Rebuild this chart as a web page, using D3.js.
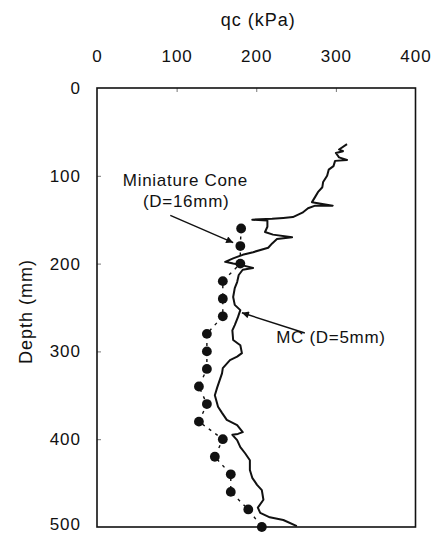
<!DOCTYPE html>
<html>
<head>
<meta charset="utf-8">
<script src="https://cdn.jsdelivr.net/npm/d3@7"></script>
<style>
  body { margin: 0; background: #fff; }
  text { font-family: Arial, "Liberation Sans", sans-serif; fill: #111; }
</style>
</head>
<body>
<svg id="chart" width="440" height="535"></svg>
<script>
// ---- data ----
const xTicks = [0, 100, 200, 300, 400];
const yTicks = [0, 100, 200, 300, 400, 500];

// Miniature cone (D=16mm), dots every 20 mm
const coneDepth = [160, 180, 200, 220, 240, 260, 280, 300, 320, 340, 360, 380, 400, 420, 440, 460, 480, 500];
const coneQc    = [181, 180, 180, 158, 158, 158, 138, 138, 138, 128, 138, 128, 158, 148, 168, 168, 190, 207];

// MC (D=5mm) continuous trace
const mcQc    = [314, 304, 309, 300, 304, 314, 299, 297, 291, 289, 284, 283, 278, 274, 270, 296, 274, 265, 258, 246,
                 234, 220, 195, 214, 214, 211, 221, 245, 226, 220, 215, 196, 183, 171, 161, 171, 183, 196, 183, 178,
                 176, 173, 171, 173, 180, 177, 173, 170, 171, 180, 182, 176, 167, 158, 157, 151, 148, 152, 157, 163,
                 176, 183, 177, 170, 176, 180, 186, 192, 192, 195, 201, 207, 209, 202, 205, 217, 234, 251];
const mcDepth = [ 64,  70,  72,  74,  79,  82,  83,  89,  93, 100, 107, 113, 118, 124, 130, 134, 134, 137, 142, 147,
                 148, 149, 150, 151, 158, 164, 167, 170, 172, 177, 182, 187, 190, 194, 198, 200, 202, 205, 207, 213,
                 221, 228, 238, 247, 253, 261, 270, 276, 287, 293, 302, 306, 310, 319, 325, 341, 350, 363, 370, 378,
                 384, 392, 394, 395, 401, 409, 416, 424, 435, 444, 452, 458, 469, 478, 484, 489, 492, 499];

// ---- layout ----
const plotL = 97, plotR = 415.5, plotT = 88, plotB = 527;

const svg = d3.select("#chart");

const x = d3.scaleLinear().domain([0, 400]).range([plotL, plotR]);
const y = d3.scaleLinear().domain([0, 500]).range([plotT, plotB]);

// arrow marker
svg.append("defs").append("marker")
  .attr("id", "arrow")
  .attr("viewBox", "0 0 10 10")
  .attr("refX", 10).attr("refY", 5)
  .attr("markerWidth", 12).attr("markerHeight", 7)
  .attr("markerUnits", "userSpaceOnUse")
  .attr("orient", "auto")
  .append("path")
  .attr("d", "M0,0 L10,5 L0,10 Z")
  .attr("fill", "#111");

// ---- axes ----
const topAxis = svg.append("g")
  .attr("transform", `translate(0,${plotT})`)
  .call(d3.axisTop(x).tickValues(xTicks).tickSize(0).tickPadding(26));
topAxis.select(".domain").remove();
topAxis.selectAll("text")
  .attr("font-size", 17).attr("letter-spacing", 1).attr("fill", "#111");

// small inner ticks on the top
svg.append("g")
  .attr("transform", `translate(0,${plotT})`)
  .call(d3.axisTop(x).tickValues([100, 200, 300]).tickSize(-4).tickFormat(""))
  .call(g => g.select(".domain").remove())
  .selectAll("line").attr("stroke", "#777");

const leftAxis = svg.append("g")
  .attr("transform", `translate(${plotL},0)`)
  .call(d3.axisLeft(y).tickValues(yTicks).tickSize(0).tickPadding(16));
leftAxis.select(".domain").remove();
leftAxis.selectAll("text")
  .attr("font-size", 17).attr("letter-spacing", 1).attr("fill", "#111")
  .attr("dy", d => d === 500 ? "0.12em" : "0.32em"); // last one sits on the page edge

svg.append("g")
  .attr("transform", `translate(${plotL},0)`)
  .call(d3.axisLeft(y).tickValues([100, 200, 300, 400]).tickSize(-4).tickFormat(""))
  .call(g => g.select(".domain").remove())
  .selectAll("line").attr("stroke", "#777");

// frame
svg.append("rect")
  .attr("x", plotL).attr("y", plotT)
  .attr("width", plotR - plotL).attr("height", plotB - plotT)
  .attr("fill", "none")
  .attr("stroke", "#111")
  .attr("stroke-width", 1.6);

// axis titles
svg.append("text")
  .attr("x", (plotL + plotR) / 2 + 2).attr("y", 26)
  .attr("text-anchor", "middle")
  .attr("font-size", 18)
  .attr("letter-spacing", 1)
  .text("qc (kPa)");

svg.append("text")
  .attr("transform", `translate(32,${(plotT + plotB) / 2 + 4}) rotate(-90)`)
  .attr("text-anchor", "middle")
  .attr("font-size", 18)
  .attr("letter-spacing", 1)
  .text("Depth (mm)");

// ---- miniature cone: dashed link + dots ----
const coneData = coneDepth.map((d, i) => ({ depth: d, qc: coneQc[i] }));

svg.append("path")
  .datum(coneData)
  .attr("fill", "none")
  .attr("stroke", "#111")
  .attr("stroke-width", 1.4)
  .attr("stroke-dasharray", "3,5")
  .attr("d", d3.line().x(d => x(d.qc)).y(d => y(d.depth)));

svg.selectAll(".cone-dot")
  .data(coneData)
  .enter()
  .append("circle")
  .attr("class", "cone-dot")
  .attr("cx", d => x(d.qc))
  .attr("cy", d => y(d.depth))
  .attr("r", 4.9)
  .attr("fill", "#111");

// ---- MC trace ----
const mcData = mcDepth.map((d, i) => ({ depth: d, qc: mcQc[i] }));

svg.append("path")
  .datum(mcData)
  .attr("fill", "none")
  .attr("stroke", "#111")
  .attr("stroke-width", 2)
  .attr("stroke-linejoin", "round")
  .attr("d", d3.line().x(d => x(d.qc)).y(d => y(d.depth)));

// ---- annotations ----
svg.append("text")
  .attr("x", x(111)).attr("y", y(105))
  .attr("dy", "0.35em")
  .attr("text-anchor", "middle")
  .attr("font-size", 17)
  .attr("letter-spacing", 0.7)
  .text("Miniature Cone");

svg.append("text")
  .attr("x", x(112)).attr("y", y(129))
  .attr("dy", "0.35em")
  .attr("text-anchor", "middle")
  .attr("font-size", 17)
  .attr("letter-spacing", 0.7)
  .text("(D=16mm)");

svg.append("line")
  .attr("x1", x(92)).attr("y1", y(145))
  .attr("x2", x(171)).attr("y2", y(176))
  .attr("stroke", "#111")
  .attr("stroke-width", 1.4)
  .attr("marker-end", "url(#arrow)");

svg.append("text")
  .attr("x", x(225)).attr("y", y(284))
  .attr("dy", "0.35em")
  .attr("font-size", 17)
  .attr("letter-spacing", 0.7)
  .text("MC (D=5mm)");

svg.append("line")
  .attr("x1", x(261)).attr("y1", y(279))
  .attr("x2", x(182)).attr("y2", y(256))
  .attr("stroke", "#111")
  .attr("stroke-width", 1.4)
  .attr("marker-end", "url(#arrow)");
</script>
</body>
</html>
